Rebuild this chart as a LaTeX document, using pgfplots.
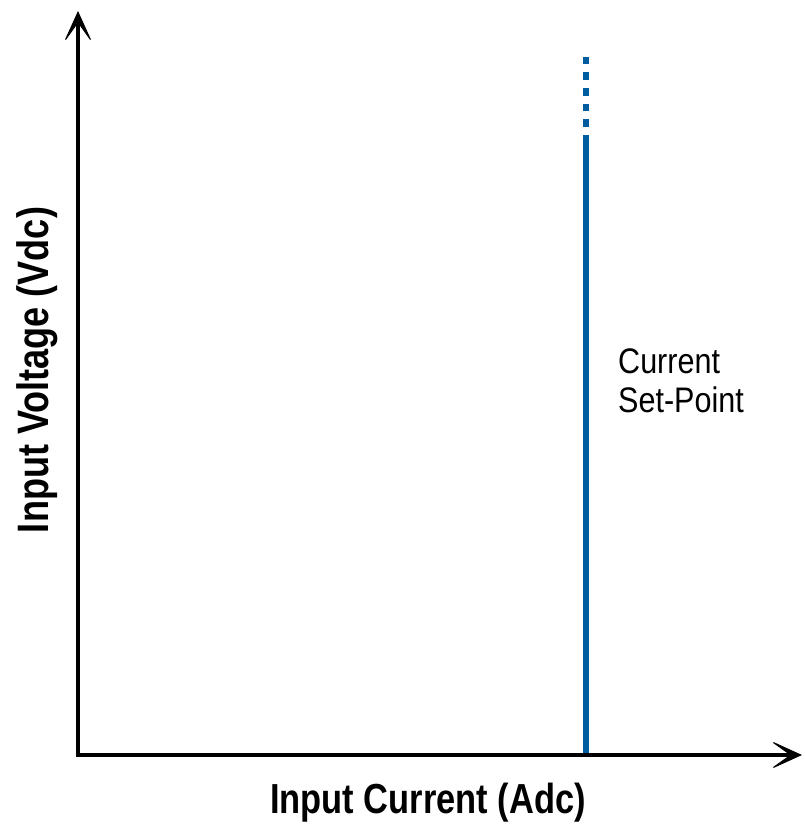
\documentclass[border=0pt]{standalone}
\usepackage{pgfplots}
\pgfplotsset{compat=1.18}
\usetikzlibrary{arrows.meta}
\usepackage{fontspec}
\setmainfont{Liberation Sans}[FakeStretch=0.82]
\newfontfamily\annfont{Liberation Sans}[FakeStretch=0.86]
\definecolor{spblue}{RGB}{0,94,160}
\tikzset{bigtip/.tip={Stealth[length=33pt 0, width=30pt 0, inset=21pt 0, line width=1pt]}}
\begin{document}
\begin{tikzpicture}
\useasboundingbox (-78pt,-72pt) rectangle (726pt,755pt);
\begin{axis}[
  at={(0pt,0pt)}, anchor=origin,
  scale only axis, width=724pt, height=743pt,
  xmin=0, xmax=724, ymin=0, ymax=743,
  axis x line*=bottom, axis y line*=left,
  axis line style={draw=none},
  xtick=\empty, ytick=\empty,
  clip=false,
  xlabel={\bfseries Input Current (Adc)},
  ylabel={\bfseries Input Voltage (Vdc)},
  label style={font=\fontsize{42pt}{46pt}\selectfont},
  xlabel style={at={(axis cs:350,-48)}, anchor=center, inner sep=0pt},
  ylabel style={at={(axis cs:-41,385)}, anchor=center, inner sep=0pt, rotate=0, font=\fontsize{44pt}{48pt}\selectfont},
]
\addplot[spblue, line width=5.3pt, line cap=butt] coordinates {(508,0) (508,620)};
\addplot[spblue, line width=5.3pt, line cap=butt, dash pattern=on 7.8pt off 7.9pt, dash phase=7.9pt] coordinates {(508,620) (508,698)};
\end{axis}
\draw[line width=3.2pt, line join=miter, bigtip-bigtip] (0pt,744pt) -- (0pt,0pt) -- (724pt,0pt);
\node[anchor=north west, inner sep=0pt, align=left, font=\annfont\fontsize{35.5pt}{39pt}\selectfont] at (540pt,406pt) {Current\\Set-Point};
\end{tikzpicture}
\end{document}
